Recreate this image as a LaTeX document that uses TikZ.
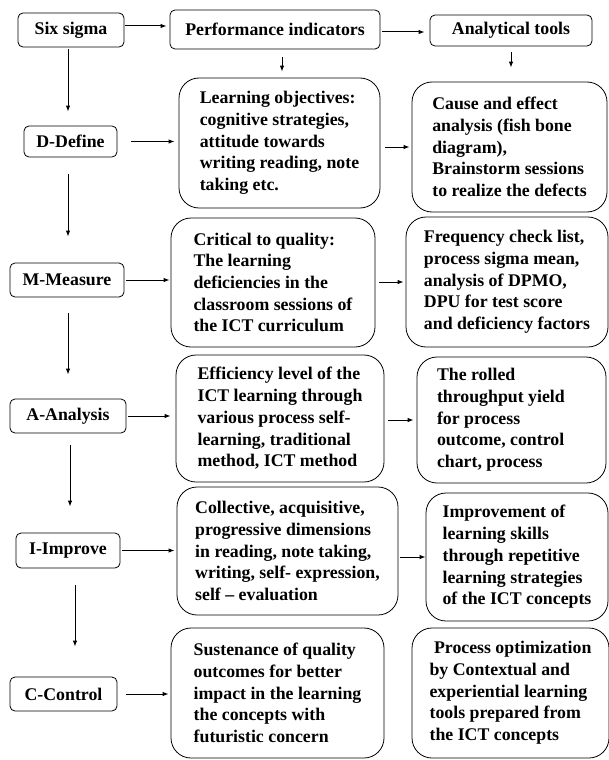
\documentclass[tikz,border=0pt]{standalone}
\usepackage{fontspec}
\setmainfont{Liberation Serif}
\usetikzlibrary{arrows.meta}

\begin{document}
\begin{tikzpicture}[>={Latex[length=6pt,width=4.5pt]},x=1pt,y=-1pt]

  \tikzstyle{S}=[rectangle, draw, line width=0.8pt, rounded corners=5pt,
    inner sep=0pt, align=center, font=\bfseries\fontsize{17.8}{21.7}\selectfont];
  \tikzstyle{T}=[rectangle, draw, line width=0.8pt, rounded corners=20pt,
    inner xsep=8pt, inner ysep=0pt, align=left, font=\bfseries\fontsize{17.8}{21.7}\selectfont];
  \tikzstyle{L}=[->, line width=1pt];

  \useasboundingbox (0,0) rectangle (609,760);

  %% top row
  \node [S,minimum width=106pt,minimum height=34pt] (six) at (71,30) {Six sigma};
  \node [S,minimum width=210pt,minimum height=39pt] (pi) at (275,29.5) {Performance indicators};
  \node [S,minimum width=162pt,minimum height=31pt] (at) at (511,30.5) {Analytical tools};

  %% DMAIC steps
  \node [S,minimum width=93pt,minimum height=31pt] (def) at (70.5,141.5) {D-Define};
  \node [S,minimum width=114pt,minimum height=34pt] (meas) at (67,280) {M-Measure};
  \node [S,minimum width=116pt,minimum height=34pt] (ana) at (68,416) {A-Analysis};
  \node [S,minimum width=104pt,minimum height=35pt] (imp) at (68,550.5) {I-Improve};
  \node [S,minimum width=107pt,minimum height=34pt] (ctl) at (63.5,694) {C-Control};

  %% indicators
  \node [T,minimum width=201pt,minimum height=130pt] (def1) at (279.5,143)
    {Learning objectives:\\cognitive strategies,\\attitude towards\\writing reading, note\\taking etc.};
  \node [T,minimum width=204pt,minimum height=129pt] (meas1) at (273,282.5)
    {Critical to quality:\\The learning\\deficiencies in the\\classroom sessions of\\the ICT curriculum};
  \node [T,minimum width=208pt,minimum height=127pt] (ana1) at (280,418.5)
    {Efficiency level of the\\ICT learning through\\various process self-\\learning, traditional\\method, ICT method};
  \node [T,minimum width=221pt,minimum height=128pt] (imp1) at (287.5,551)
    {Collective, acquisitive,\\progressive dimensions\\in reading, note taking,\\writing, self- expression,\\self -- evaluation};
  \node [T,minimum width=213pt,minimum height=130pt] (ctl1) at (277.5,693)
    {Sustenance of quality\\outcomes for better\\impact in the learning\\the concepts with\\futuristic concern};

  %% tools
  \node [T,minimum width=195pt,minimum height=130pt] (def2) at (509.5,147)
    {Cause and effect\\analysis (fish bone\\diagram),\\Brainstorm sessions\\to realize the defects};
  \node [T,minimum width=202pt,minimum height=130pt] (meas2) at (507,282)
    {Frequency check list,\\process sigma mean,\\analysis of DPMO,\\DPU for test score\\and deficiency factors};
  \node [T,minimum width=189pt,minimum height=126pt,text width=149pt,align=flush left] (ana2) at (511.5,420)
    {The rolled\\throughput yield\\for process\\outcome, control\\chart, process};
  \node [T,minimum width=182pt,minimum height=128pt] (imp2) at (517,557)
    {Improvement of\\learning skills\\through repetitive\\learning strategies\\of the ICT concepts};
  \node [T,minimum width=197pt,minimum height=130pt] (ctl2) at (510.5,693)
    {\ Process optimization\\by Contextual and\\experiential learning\\tools prepared from\\the ICT concepts};

  %% arrows, top row
  \draw [L,shorten <=1pt,shorten >=3pt] ([yshift=4pt]six.east) -- ([yshift=3.5pt]pi.west);
  \draw [L,shorten <=2pt,shorten >=5pt] ([yshift=-2.5pt]pi.east) -- ([yshift=-1.5pt]at.west);
  \draw [L,shorten <=8pt,shorten >=6pt] ([xshift=7pt]pi.south) -- ([xshift=2.5pt]def1.north);
  \draw [L,shorten <=6pt,shorten >=14pt] (at.south) -- ([xshift=1.5pt]def2.north);

  %% arrows, steps down
  \draw [L,shorten <=2pt,shorten >=14pt] ([xshift=-3pt]six.south) -- ([xshift=-2.5pt]def.north);
  \draw [L,shorten <=17pt,shorten >=26pt] ([xshift=-2.5pt]def.south) -- ([xshift=1pt]meas.north);
  \draw [L,shorten <=16pt,shorten >=24pt] ([xshift=1pt]meas.south) -- (ana.north);
  \draw [L,shorten <=12pt,shorten >=26pt] ([xshift=2pt]ana.south) -- ([xshift=2pt]imp.north);
  \draw [L,shorten <=17pt,shorten >=30pt] ([xshift=7pt]imp.south) -- ([xshift=11.5pt]ctl.north);

  %% arrows, steps to indicators
  \draw [L,shorten <=14pt,shorten >=4pt] (def.east) -- (def.east -| def1.west);
  \draw [L,shorten <=2pt,shorten >=1pt] (meas.east) -- (meas.east -| meas1.west);
  \draw [L,shorten <=2pt,shorten >=5pt] (ana.east) -- (ana.east -| ana1.west);
  \draw [L,shorten <=2pt,shorten >=2pt] (imp.east) -- (imp.east -| imp1.west);
  \draw [L,shorten <=9pt,shorten >=2pt] (ctl.east) -- (ctl.east -| ctl1.west);

  %% arrows, indicators to tools
  \draw [L,shorten <=5pt,shorten >=2pt] (def2.west -| def1.east) -- (def2.west);
  \draw [L,shorten <=4pt,shorten >=2pt] (meas2.west -| meas1.east) -- (meas2.west);
  \draw [L,shorten <=4pt,shorten >=3pt] (ana2.west -| ana1.east) -- (ana2.west);
  \draw [L,shorten <=2pt,shorten >=0pt] (imp2.west -| imp1.east) -- (imp2.west);

\end{tikzpicture}
\end{document}
